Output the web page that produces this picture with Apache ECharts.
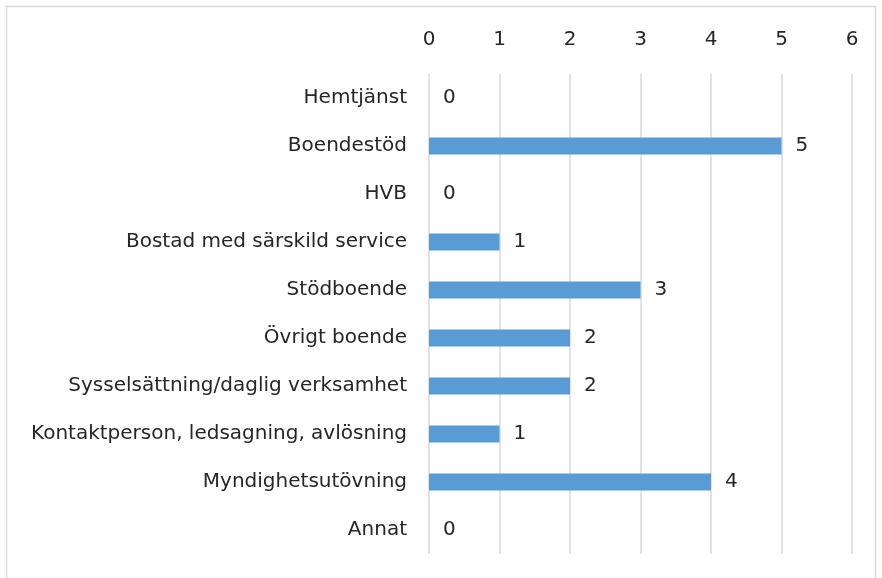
<!DOCTYPE html>
<html><head><meta charset="utf-8">
<script src="https://cdn.jsdelivr.net/npm/echarts@6/dist/echarts.min.js"></script>
<style>html,body{margin:0;padding:0;background:#fff}#c{width:882px;height:578px}</style>
</head><body><div id="c"></div>
<script>
const categories = ["Hemtjänst","Boendestöd","HVB","Bostad med särskild service","Stödboende","Övrigt boende","Sysselsättning/daglig verksamhet","Kontaktperson, ledsagning, avlösning","Myndighetsutövning","Annat"];
const values = [0,5,0,1,3,2,2,1,4,0];
const xMin = 0, xMax = 6, xInterval = 1;

const chart = echarts.init(document.getElementById('c'));
const font = "'DejaVu Sans', sans-serif";
chart.setOption({
  animation:false,
  graphic:[{type:'rect',shape:{x:6.5,y:6.5,width:869,height:580},style:{fill:'none',stroke:'#d9d9d9',lineWidth:1.5}}],
  grid:{left:429,right:30,top:74,bottom:24,containLabel:false},
  xAxis:{type:'value',position:'top',min:xMin,max:xMax,interval:xInterval,
    axisLine:{show:false},axisTick:{show:false},
    axisLabel:{margin:24,fontSize:20,color:'#262626',fontFamily:font},
    splitLine:{lineStyle:{color:'#d9d9d9',width:1.5}}},
  yAxis:{type:'category',data:categories,inverse:true,
    axisLine:{show:false},axisTick:{show:false},
    axisLabel:{margin:22,fontSize:20,color:'#262626',fontFamily:font}},
  series:[{type:'bar',data:values,barWidth:17,
    itemStyle:{color:'#5b9bd5'},
    label:{show:true,position:'right',distance:14,fontSize:20,color:'#262626',fontFamily:font}}]
});
</script></body></html>
